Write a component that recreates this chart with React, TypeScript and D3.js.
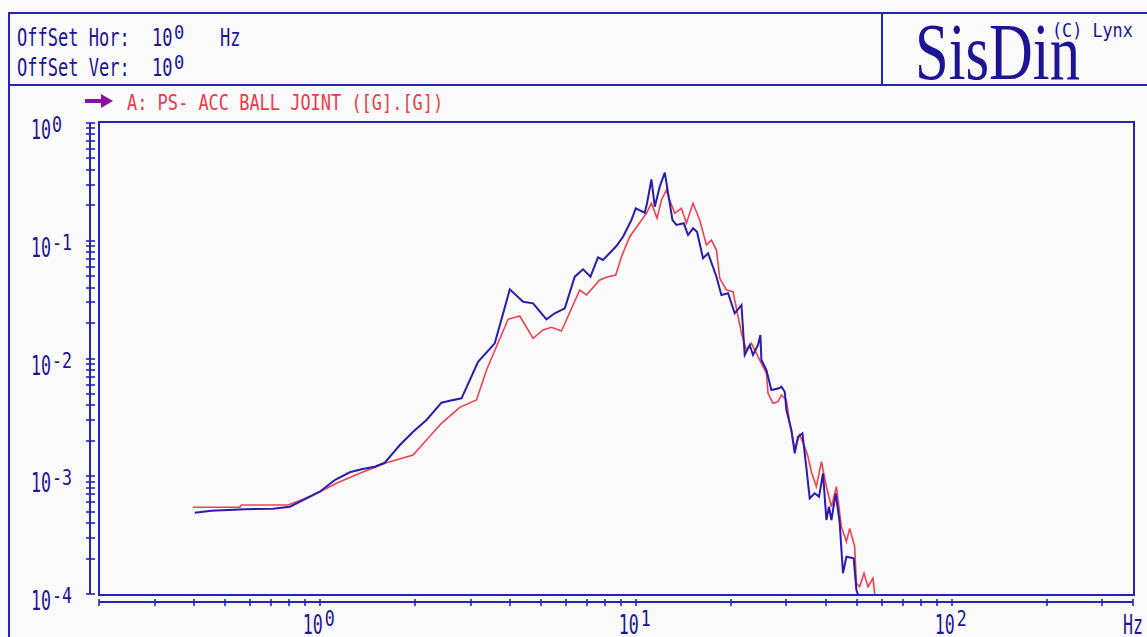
import React from 'react';
import * as d3 from 'd3';

// ---------- data (frequency Hz, amplitude G²) ----------
const blueData: [number, number][] = [
  [0.402, 4.9e-4], [0.454, 5.1e-4], [0.579, 5.24e-4], [0.711, 5.3e-4], [0.804, 5.51e-4],
  [0.885, 6.28e-4], [1.0, 7.39e-4], [1.115, 9.29e-4], [1.244, 1.08e-3], [1.355, 1.146e-3],
  [1.493, 1.205e-3], [1.606, 1.303e-3], [1.792, 1.842e-3], [1.974, 2.389e-3], [2.176, 3.004e-3],
  [2.427, 4.213e-3], [2.579, 4.382e-3], [2.809, 4.592e-3], [3.169, 9.39e-3], [3.579, 1.346e-2],
  [3.994, 3.867e-2], [4.4, 3.034e-2], [4.732, 2.94e-2], [5.218, 2.152e-2], [5.542, 2.42e-2],
  [5.962, 2.669e-2], [6.412, 4.953e-2], [6.812, 5.723e-2], [7.189, 4.953e-2], [7.597, 7.236e-2],
  [7.879, 6.863e-2], [8.688, 9.024e-2], [9.116, 0.1082], [9.691, 0.15], [10.0, 0.1886],
  [10.68, 0.173], [10.86, 0.208], [11.21, 0.3325], [11.49, 0.1946], [11.91, 0.2877],
  [12.36, 0.3784], [12.56, 0.2877], [13.07, 0.15], [13.45, 0.1361], [14.19, 0.1407],
  [14.64, 0.1119], [15.18, 0.1276], [15.63, 0.1193], [16.33, 7.096e-2], [16.94, 7.822e-2],
  [18.01, 4.953e-2], [18.67, 3.462e-2], [19.6, 3.578e-2], [20.57, 2.42e-2], [21.61, 2.847e-2],
  [22.13, 1.071e-2], [22.95, 1.302e-2], [23.51, 1.071e-2], [24.38, 1.302e-2], [24.81, 1.583e-2],
  [24.99, 9.71e-3], [25.92, 7.99e-3], [26.88, 5.4e-3], [28.41, 5.58e-3], [28.91, 5.76e-3],
  [29.62, 5.22e-3], [29.99, 3.65e-3], [31.1, 2.47e-3], [31.86, 1.566e-3], [32.64, 2.167e-3],
  [33.7, 2.316e-3], [34.7, 1.168e-3], [35.54, 6.5e-4], [36.86, 7.16e-4], [38.03, 6.71e-4],
  [39.15, 1.059e-3], [40.14, 4.25e-4], [40.9, 5.51e-4], [41.63, 4.25e-4], [42.96, 7.16e-4],
  [44.23, 3.99e-4], [45.29, 1.499e-4], [46.44, 2.074e-4], [48.97, 2.01e-4], [49.94, 1.081e-4],
  [51.16, 9e-5],
];

const redData: [number, number][] = [
  [0.397, 5.45e-4], [0.558, 5.45e-4], [0.565, 5.7e-4], [0.794, 5.7e-4], [0.885, 6.37e-4],
  [1.0, 7.39e-4], [1.129, 8.71e-4], [1.338, 1.059e-3], [1.626, 1.303e-3], [1.974, 1.515e-3],
  [2.176, 2.032e-3], [2.427, 2.817e-3], [2.773, 3.85e-3], [3.133, 4.44e-3], [3.37, 7.99e-3],
  [3.944, 2.152e-2], [4.295, 2.296e-2], [4.732, 1.484e-2], [5.09, 1.746e-2], [5.41, 1.841e-2],
  [5.82, 1.712e-2], [6.65, 3.817e-2], [6.982, 3.462e-2], [7.693, 4.641e-2], [8.175, 4.953e-2],
  [8.645, 5.117e-2], [9.01, 7.32e-2], [9.572, 0.1082], [10.17, 0.1361], [10.81, 0.171],
  [11.21, 0.208], [11.68, 0.155], [12.06, 0.222], [12.51, 0.27], [12.81, 0.222],
  [13.29, 0.171], [13.95, 0.1886], [14.47, 0.1407], [15.18, 0.208], [15.94, 0.15],
  [16.74, 9.2e-2], [17.36, 0.1015], [18.01, 8.34e-2], [18.45, 4.8e-2], [19.36, 3.817e-2],
  [20.32, 3.693e-2], [21.61, 1.637e-2], [22.4, 1.181e-2], [23.24, 1.346e-2], [24.1, 1.107e-2],
  [24.99, 9.1e-3], [25.92, 7.49e-3], [26.23, 5.06e-3], [27.2, 4.16e-3], [28.21, 4.3e-3],
  [28.91, 4.9e-3], [29.99, 4.44e-3], [30.72, 2.817e-3], [31.86, 1.727e-3], [33.04, 2.24e-3],
  [34.26, 1.782e-3], [35.11, 1.466e-3], [35.97, 1.093e-3], [37.31, 8.15e-4], [38.7, 1.329e-3],
  [40.14, 8.15e-4], [41.63, 5.51e-4], [43.18, 8.15e-4], [44.77, 3.73e-4], [46.44, 2.78e-4],
  [47.56, 3.61e-4], [49.32, 2.52e-4], [49.94, 1.232e-4], [51.16, 1.153e-4], [52.79, 1.499e-4],
  [54.35, 1.153e-4], [56.36, 1.359e-4], [57.35, 9e-5],
];

const yLabelExps = [0, -1, -2, -3, -4];
const xLabelExps = [0, 1, 2];
const xDomain: [number, number] = [0.2, 375];
const yDomain: [number, number] = [1e-4, 1];
const legendText = 'A: PS- ACC BALL JOINT ([G].[G])';
const headerLines = ['OffSet Hor:', 'OffSet Ver:'];

// ---------- styling ----------
const W = 1147;
const H = 637;
const MONO = "'DejaVu Sans Mono', monospace";
const FRAME = '#2424b8';
const NAVY = '#1c1494';
const BLUE = '#2a1cae';
const RED = '#f2404f';
const RED_TXT = '#ec3a4a';
const PURPLE = '#8a10a2';
const CH = 10.25; // char advance

const T = ({ x, y, text, size, fill = NAVY, adv = CH, family = MONO }: any) => (
  <text x={x} y={y} fontFamily={family} fontSize={size} fill={fill}
    textLength={text.length * adv} lengthAdjust="spacingAndGlyphs">{text}</text>
);

export default function App() {
  const x = d3.scaleLog().domain(xDomain).range([99, 1133]);
  const y = d3.scaleLog().domain(yDomain).range([594, 123]);

  const line = d3.line<[number, number]>().x(d => x(d[0])).y(d => y(d[1]));

  const yTicks: number[] = [];
  for (let n = -4; n <= -1; n++) for (let k = 1; k <= 9; k++) yTicks.push(k * Math.pow(10, n));
  yTicks.push(1);

  const xTicks: number[] = [];
  for (let n = -1; n <= 2; n++) for (let k = 1; k <= 9; k++) {
    const v = k * Math.pow(10, n);
    if (v >= xDomain[0] - 1e-9 && v <= xDomain[1]) xTicks.push(v);
  }
  xTicks.push(xDomain[1]);

  return (
    <svg width={W} height={H} style={{ position: 'absolute', left: 0, top: 0, background: '#fafafa' }}>
      <rect x={0} y={0} width={W} height={H} fill="#fafafa" />
      {/* outer frame & header */}
      <path d={`M9,${H + 2} V13 H${W + 2}`} fill="none" stroke={FRAME} strokeWidth={2} />
      <path d={`M9,85 H${W + 2}`} stroke={FRAME} strokeWidth={2} />
      <path d="M882,13 V85" stroke={FRAME} strokeWidth={2} />

      {headerLines.map((t, i) => (
        <g key={t}>
          <T x={17} y={46 + i * 30} text={t} size={25} />
          <T x={152} y={46 + i * 30} text="10" size={25} />
          <T x={174} y={39 + i * 30} text="0" size={20} />
        </g>
      ))}
      <T x={220} y={46} text="Hz" size={25} />

      <text x={915} y={79} fontFamily="'Liberation Serif', 'DejaVu Serif', serif" fontSize={80}
        fill={NAVY} textLength={165} lengthAdjust="spacingAndGlyphs">SisDin</text>
      <T x={1052} y={37} text="(C) Lynx" size={20} adv={10.1} />

      {/* legend */}
      <path d="M85,101 H103" stroke={PURPLE} strokeWidth={4} />
      <path d="M101,94 L113,101 L101,108 Z" fill={PURPLE} />
      <T x={127} y={110} text={legendText} size={22} fill={RED_TXT} adv={10.2} />

      {/* plot box */}
      <rect x={99} y={122} width={1035} height={473} fill="none" stroke={FRAME} strokeWidth={2} />

      <defs>
        <clipPath id="plotclip">
          <rect x={100} y={123} width={1033} height={471} />
        </clipPath>
      </defs>
      <g clipPath="url(#plotclip)">
        <path d={line(redData) || ''} fill="none" stroke={RED} strokeWidth={1.6} strokeLinejoin="miter" />
        <path d={line(blueData) || ''} fill="none" stroke={BLUE} strokeWidth={2} strokeLinejoin="miter" />
      </g>

      {/* y axis */}
      <line x1={90} x2={90} y1={y(1)} y2={y(1e-4)} stroke={FRAME} strokeWidth={2} />
      {yTicks.map((v, i) => (
        <line key={i} x1={86} x2={95} y1={Math.round(y(v))} y2={Math.round(y(v))} stroke={FRAME} strokeWidth={1.6} />
      ))}
      {yLabelExps.map(e => {
        const ty = y(Math.pow(10, e));
        return (
          <g key={e}>
            <T x={31} y={ty + 16} text="10" size={26} adv={10} />
            <T x={52} y={ty + 9} text={String(e)} size={21} adv={10} />
          </g>
        );
      })}

      {/* x axis */}
      <line x1={x(xDomain[0])} x2={x(xDomain[1])} y1={602} y2={602} stroke={FRAME} strokeWidth={2} />
      {xTicks.map((v, i) => (
        <line key={i} x1={Math.round(x(v))} x2={Math.round(x(v))} y1={599} y2={606} stroke={FRAME} strokeWidth={1.6} />
      ))}
      {xLabelExps.map(e => {
        const tx = x(Math.pow(10, e));
        return (
          <g key={e}>
            <T x={tx - 17} y={634} text="10" size={26} adv={10} />
            <T x={tx + 5} y={626} text={String(e)} size={21} adv={10} />
          </g>
        );
      })}
      <T x={1123} y={634} text="Hz" size={26} adv={10} />
    </svg>
  );
}
